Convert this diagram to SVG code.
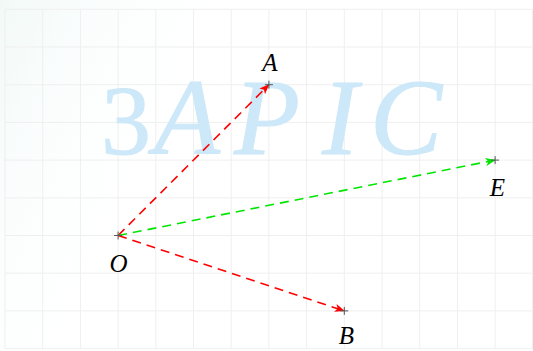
<svg xmlns="http://www.w3.org/2000/svg" width="533" height="351" viewBox="0 0 533 351">
<defs>
<style>
.grid{stroke:#efefef;stroke-width:1;fill:none}
.lbl{font-family:"Liberation Serif","DejaVu Serif",serif;font-style:italic;font-size:25px;fill:#000;text-anchor:middle}
.wm{font-family:"Liberation Serif","DejaVu Serif",serif;fill:#cde8f8;stroke:#cde8f8;stroke-width:1}
.cross{stroke:#555;stroke-width:1}
.red{stroke:#ff0000;stroke-width:1.6;stroke-dasharray:9 6;fill:none}
.green{stroke:#00e600;stroke-width:1.6;stroke-dasharray:9 6;fill:none}
</style>
<marker id="arR" viewBox="0 0 10 8" refX="9.5" refY="4" markerWidth="10" markerHeight="8" markerUnits="userSpaceOnUse" orient="auto">
<path d="M0,0 L10,4 L0,8 L2.5,4 Z" fill="#ff0000"/>
</marker>
<marker id="arG" viewBox="0 0 10 8" refX="9.5" refY="4" markerWidth="10" markerHeight="8" markerUnits="userSpaceOnUse" orient="auto">
<path d="M0,0 L10,4 L0,8 L2.5,4 Z" fill="#00e600"/>
</marker>
<linearGradient id="bg" x1="0" y1="0" x2="1" y2="0.3">
<stop offset="0" stop-color="#eef8f4" stop-opacity="0.8"/>
<stop offset="0.2" stop-color="#f6fbfb" stop-opacity="0.4"/>
<stop offset="0.45" stop-color="#ffffff" stop-opacity="0"/>
</linearGradient>
</defs>
<rect width="533" height="351" fill="#ffffff"/>
<rect width="533" height="351" fill="url(#bg)"/>
<g id="grid" class="grid">
<path d="M5,9.3V348.6M42.7,9.3V348.6M80.4,9.3V348.6M118.1,9.3V348.6M155.8,9.3V348.6M193.5,9.3V348.6M231.2,9.3V348.6M268.9,9.3V348.6M306.6,9.3V348.6M344.3,9.3V348.6M382,9.3V348.6M419.7,9.3V348.6M457.4,9.3V348.6M495.1,9.3V348.6M532.5,9.3V348.6"/>
<path d="M5,9.3H533M5,47H533M5,84.7H533M5,122.4H533M5,160.1H533M5,197.8H533M5,235.5H533M5,273.2H533M5,310.9H533M5,348.6H533"/>
</g>
<g id="watermark">
<text class="wm" x="101" y="154" font-size="100">3</text>
<text class="wm" font-style="italic" font-size="108" y="154"><tspan x="154">A</tspan><tspan x="234">P</tspan><tspan x="322">I</tspan><tspan x="370">C</tspan></text>
</g>
<g id="connectors">
<line id="OA" class="red" x1="118.1" y1="235.5" x2="268.9" y2="84.7" marker-end="url(#arR)"/>
<line id="OB" class="red" x1="118.1" y1="235.5" x2="344.3" y2="310.9" marker-end="url(#arR)"/>
<line id="OE" class="green" x1="118.1" y1="235.5" x2="495.1" y2="160.1" marker-end="url(#arG)"/>
</g>
<g id="O">
<path class="cross" d="M114.1,235.5H122.1M118.1,231.5V239.5"/>
<text class="lbl" x="118.5" y="271.7">O</text>
</g>
<g id="A">
<path class="cross" d="M264.9,84.7H272.9M268.9,80.7V88.7"/>
<text class="lbl" x="270" y="70.7">A</text>
</g>
<g id="E">
<path class="cross" d="M491.1,160.1H499.1M495.1,156.1V164.1"/>
<text class="lbl" x="497.5" y="195.7">E</text>
</g>
<g id="B">
<path class="cross" d="M340.3,310.9H348.3M344.3,306.9V314.9"/>
<text class="lbl" x="346.5" y="344.3">B</text>
</g>
</svg>
